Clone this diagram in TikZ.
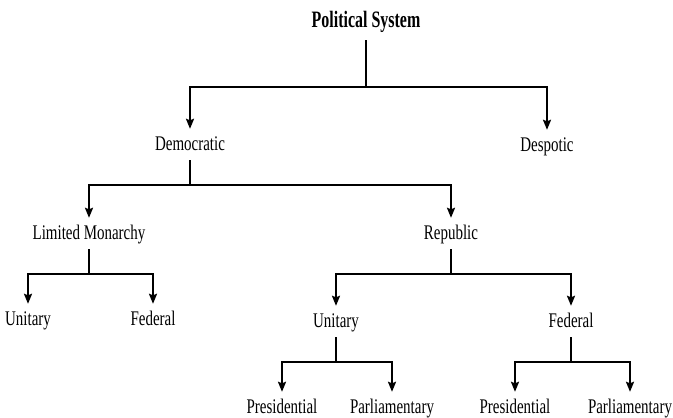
\documentclass[tikz,border=0pt]{standalone}
\usepackage{fontspec}
\setmainfont{Liberation Serif}[FakeStretch=0.72]
\newfontfamily\psfont{Liberation Serif}[FakeStretch=0.68]
\usetikzlibrary{arrows.meta}
\begin{document}
\begin{tikzpicture}[x=1pt,y=-1pt,
  lbl/.style={anchor=base,inner xsep=0pt,inner ysep=8pt,text height=13pt,text depth=2pt,
    font=\fontsize{20.8}{25}\selectfont},
  toplbl/.style={anchor=base,inner xsep=0pt,inner ysep=11pt,text height=15pt,text depth=2pt,
    font=\psfont\bfseries\fontsize{23.5}{28}\selectfont},
  wire/.style={line width=2pt},
  arr/.style={wire,-{Stealth[length=10pt,width=8pt,inset=1.5pt]}}]
\useasboundingbox (0,0) rectangle (673,418);

% nodes
\node[toplbl] (ps) at (366,27) {Political System};
\node[lbl] (dem) at (190,150) {Democratic};
\node[lbl] (desp) at (547,151) {Despotic};
\node[lbl] (lm) at (89,239) {Limited Monarchy};
\node[lbl] (rep) at (451,239) {Republic};
\node[lbl] (u1) at (28,325) {Unitary};
\node[lbl] (f1) at (153,325) {Federal};
\node[lbl] (u2) at (336,327) {Unitary};
\node[lbl] (f2) at (571,327) {Federal};
\node[lbl] (p1) at (282,413) {Presidential};
\node[lbl] (pa1) at (392,413) {Parliamentary};
\node[lbl] (p2) at (515,413) {Presidential};
\node[lbl] (pa2) at (630,413) {Parliamentary};

% bus points
\coordinate (bps) at (366,87);
\coordinate (bdem) at (190,185);
\coordinate (blm) at (89,274);
\coordinate (brep) at (451,274);
\coordinate (bu2) at (336,362);
\coordinate (bf2) at (571,362);

% connectors
\draw[wire] (ps.south) -- (bps);
\draw[arr] (bps) -| (dem.north);
\draw[arr] (bps) -| (desp.north);

\draw[wire] (dem.south) -- (bdem);
\draw[arr] (bdem) -| (lm.north);
\draw[arr] (bdem) -| (rep.north);

\draw[wire] (lm.south) -- (blm);
\draw[arr] (blm) -| (u1.north);
\draw[arr] (blm) -| (f1.north);

\draw[wire] (rep.south) -- (brep);
\draw[arr] (brep) -| (u2.north);
\draw[arr] (brep) -| (f2.north);

\draw[wire] (u2.south) -- (bu2);
\draw[arr] (bu2) -| (p1.north);
\draw[arr] (bu2) -| (pa1.north);

\draw[wire] (f2.south) -- (bf2);
\draw[arr] (bf2) -| (p2.north);
\draw[arr] (bf2) -| (pa2.north);
\end{tikzpicture}
\end{document}
